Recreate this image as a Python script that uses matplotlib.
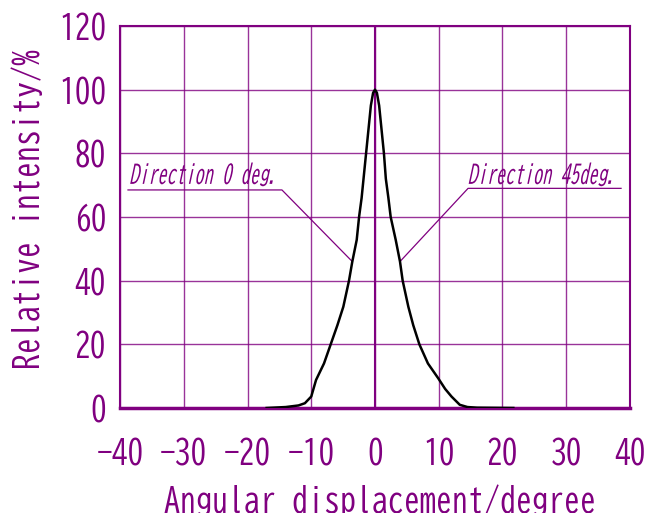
import matplotlib
matplotlib.use('Agg')
import matplotlib.pyplot as plt
from matplotlib import patheffects
from matplotlib.transforms import Affine2D

purple = '#800080'

# curve
angle = [-17, -14, -12, -11, -10.0, -9.25, -8.0, -6.95, -5.9, -4.97, -4.08, -3.56, -2.87,
         -2.5, -2.1, -1.8, -1.4, -1.0, -0.65, -0.3, 0,
         0.3, 0.65, 1.0, 1.4, 1.7, 2.1, 2.46, 3.25, 3.92, 4.34, 5.23, 6.0, 6.96, 8.3,
         9.93, 11.0, 12.0, 13.3, 14.5, 16, 21.7]
intensity = [0, 0.3, 0.8, 1.5, 3.6, 8.8, 14, 20, 26, 31.8, 40, 46, 52.8,
             60, 66, 72, 80, 88, 95, 99, 100,
             99, 95, 88, 80, 72, 66, 60, 52.8, 46, 40, 31.8, 26, 20, 14,
             9.3, 6, 3.6, 1.0, 0.3, 0.1, 0]

xticks = [-40, -30, -20, -10, 0, 10, 20, 30, 40]
yticks = [0, 20, 40, 60, 80, 100, 120]

fam = ['BIZ UDGothic', 'DejaVu Sans']


class Slant(patheffects.AbstractPathEffect):
    # narrow, slanted glyphs for the leader notes
    def draw_path(self, renderer, gc, tpath, affine, rgbFace=None):
        t = Affine2D().scale(0.74, 1).skew_deg(12, 0) + affine
        renderer.draw_path(gc, tpath, t, rgbFace)


fig = plt.figure(figsize=(6.46, 5.13), dpi=100)
ax = fig.add_axes([0.1858, 0.2047, 0.7894, 0.7446])
ax.set_xlim(-40, 40)
ax.set_ylim(0, 120)
ax.set_xticks(xticks)
ax.set_yticks(yticks)
ax.set_xticklabels(['\u2212' + str(-t) if t < 0 else str(t) for t in xticks], family=fam, fontsize=22.7, color=purple)
ax.set_yticklabels([str(t) for t in yticks], family=fam, fontsize=22.7, color=purple)
ax.tick_params(length=0)
ax.tick_params(axis='y', pad=10)
ax.tick_params(axis='x', pad=21)
ax.grid(True, color=purple, linewidth=1.0, alpha=0.8)
for s in ax.spines.values():
    s.set_color(purple)
    s.set_linewidth(1.5)
ax.spines['bottom'].set_linewidth(2.5)
ax.axvline(0, color=purple, linewidth=1.5)

ax.plot(angle, intensity, color='black', linewidth=1.8, zorder=5)

# leader lines with underlined notes
ax.plot([-38.75, -14.6, -3.56], [68.5, 68.5, 46], color=purple, linewidth=0.9)
ax.plot([3.92, 14.6, 38.6], [46, 69.0, 69.0], color=purple, linewidth=0.9)
ax.text(-38.5, 70.6, 'Direction 0 deg.', family=fam, fontsize=18, color=purple,
        va='baseline', path_effects=[Slant()])
ax.text(14.6, 70.6, 'Direction 45deg.', family=fam, fontsize=18, color=purple,
        va='baseline', path_effects=[Slant()])

ax.set_ylabel('Relative intensity/%', family=fam, fontsize=23, color=purple)
ax.yaxis.set_label_coords(-0.152, 0.522)
ax.set_xlabel('Angular displacement/degree', family=fam, fontsize=23, color=purple, labelpad=12)
ax.xaxis.set_label_coords(0.51, -0.2)

fig.savefig('out.png', dpi=100)
